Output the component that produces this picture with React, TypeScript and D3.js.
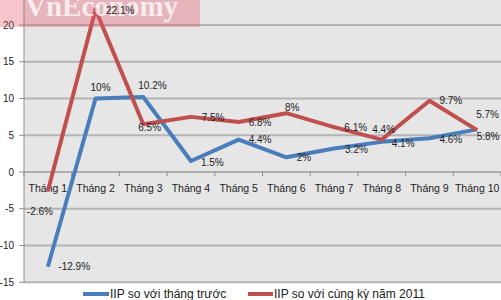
import React from 'react';
import * as d3 from 'd3';

const categories = ['Tháng 1', 'Tháng 2', 'Tháng 3', 'Tháng 4', 'Tháng 5', 'Tháng 6', 'Tháng 7', 'Tháng 8', 'Tháng 9', 'Tháng 10'];
const momValues = [-12.9, 10, 10.2, 1.5, 4.4, 2, 3.2, 4.1, 4.6, 5.8];
const yoyValues = [-2.6, 22.1, 6.5, 7.5, 6.8, 8, 6.1, 4.4, 9.7, 5.7];
const momLabels = ['-12.9%', '10%', '10.2%', '1.5%', '4.4%', '2%', '3.2%', '4.1%', '4.6%', '5.8%'];
const yoyLabels = ['-2.6%', '22.1%', '6.5%', '7.5%', '6.8%', '8%', '6.1%', '4.4%', '9.7%', '5.7%'];
const yTicks = [-15, -10, -5, 0, 5, 10, 15, 20];
const seriesNames = ['IIP so với tháng trước', 'IIP so với cùng kỳ năm 2011'];
const watermarkText = 'VnEconomy';

// layout: label offsets (left edge dx, vertical center dy) relative to point
const momOffsets: [number, number][] = [[10.5, 0], [-5, -11.5], [-5, -12], [10, 1.7], [10, 0], [10.3, 0], [11, 1.2], [10, 1.4], [10, 1], [-0.5, 7.3]];
const yoyOffsets: [number, number][] = [[-21, 20], [10.5, 1], [-5, 3.5], [10.7, 0.8], [10, 0.7], [-1.3, -5.5], [10.3, 0.5], [-9.5, -10.4], [10, 0], [-1, -16]];

const W = 501;
const H = 300;
const left = 24;
const right = 501;
const plotBottom = 283;

const BLUE = '#4a7ebb';
const RED = '#c0504d';

export default function App() {
  const x = d3.scaleBand<string>().domain(categories).range([left, right]).padding(0);
  const y = d3.scaleLinear().domain([-15, 20]).range([282.25, 25]);
  const cx = (c: string) => (x(c) as number) + x.bandwidth() / 2;
  const line = d3.line<number>().x((_, i) => cx(categories[i])).y((v) => y(v));

  const font = '"Liberation Sans", Arial, sans-serif';
  const boundaries = categories.map((c) => x(c) as number).concat([right]);

  return (
    <svg width={W} height={H} style={{ position: 'absolute', left: 0, top: 0, background: '#fff' }} fontFamily={font}>
      <rect x={0} y={0} width={W} height={H} fill="#fff" />
      <rect x={left} y={0} width={right - left} height={plotBottom - 0} fill="#e6e6e6" />
      {yTicks.map((t) => (
        <g key={t}>
          <line x1={left} x2={right} y1={y(t)} y2={y(t)} stroke="#b4b4b4" strokeWidth={t === 0 ? 1.5 : 2} />
          <line x1={19} x2={left} y1={y(t)} y2={y(t)} stroke="#8c8c8c" strokeWidth={1} />
          <text x={14} y={y(t)} textAnchor="end" dominantBaseline="central" fontSize={10} fill="#222">{t}</text>
        </g>
      ))}
      <line x1={left} x2={left} y1={0} y2={plotBottom} stroke="#8c8c8c" strokeWidth={1} />
      <line x1={left} x2={right} y1={y(0)} y2={y(0)} stroke="#9a9a9a" strokeWidth={1} />
      {boundaries.map((b, i) => (
        <line key={i} x1={b} x2={b} y1={y(0)} y2={y(0) + 4} stroke="#8c8c8c" strokeWidth={1} />
      ))}
      {categories.map((c) => (
        <text key={c} x={cx(c)} y={y(0) + 16} textAnchor="middle" dominantBaseline="central" fontSize={10.5} fill="#222">{c}</text>
      ))}
      <path d={line(momValues) || ''} fill="none" stroke={BLUE} strokeWidth={4} strokeLinejoin="round" />
      <path d={line(yoyValues) || ''} fill="none" stroke={RED} strokeWidth={4} strokeLinejoin="round" />
      {/* watermark */}
      <rect x={0} y={0} width={200} height={27} fill="rgba(225,90,105,0.35)" />
      <text x={25} y={15.5} fontFamily='"Liberation Serif", "Times New Roman", serif' fontWeight="bold" fontSize={29} fill="#fff" fillOpacity={0.75}>{watermarkText}</text>
      {momValues.map((v, i) => (
        <text key={'m' + i} x={cx(categories[i]) + momOffsets[i][0]} y={y(v) + momOffsets[i][1]} dominantBaseline="central" fontSize={10} fill="#222">{momLabels[i]}</text>
      ))}
      {yoyValues.map((v, i) => (
        <text key={'y' + i} x={cx(categories[i]) + yoyOffsets[i][0]} y={y(v) + yoyOffsets[i][1]} dominantBaseline="central" fontSize={10} fill="#222">{yoyLabels[i]}</text>
      ))}
      {/* legend */}
      <line x1={83} x2={109} y1={294} y2={294} stroke={BLUE} strokeWidth={4} />
      <text x={110} y={294} dominantBaseline="central" fontSize={12} fill="#222">{seriesNames[0]}</text>
      <line x1={248} x2={273} y1={294} y2={294} stroke={RED} strokeWidth={4} />
      <text x={274} y={294} dominantBaseline="central" fontSize={12} fill="#222">{seriesNames[1]}</text>
    </svg>
  );
}
